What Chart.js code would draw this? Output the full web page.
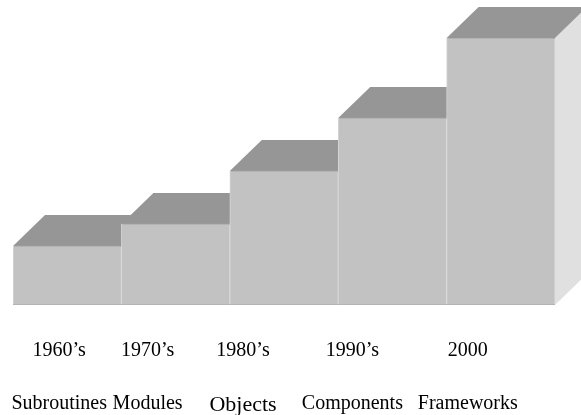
<!DOCTYPE html>
<html>
<head>
<meta charset="utf-8">
<script src="https://cdn.jsdelivr.net/npm/chart.js@4"></script>
<style>
  html, body { margin: 0; padding: 0; background: #fff; }
  #wrap { width: 581px; height: 415px; position: relative; }
</style>
</head>
<body>
<div id="wrap"><canvas id="stepChart"></canvas></div>
<script>
const decades = ['1960\u2019s', '1970\u2019s', '1980\u2019s', '1990\u2019s', '2000'];
const units   = ['Subroutines', 'Modules', 'Objects', 'Components', 'Frameworks'];
const levels  = [59, 81, 134, 187, 267];

// box depth of the fake 3D look
const DEPTH_X = 32;
const DEPTH_Y = 31;
// label centres sit a bit left of the bar centres in the original
const labelShift = [-8, -28, -41, -40, -33];

const boxes3d = {
  id: 'boxes3d',
  beforeDatasetsDraw(chart) {
    const ctx = chart.ctx;
    const bars = chart.getDatasetMeta(0).data;
    ctx.save();
    bars.forEach((b, i) => {
      const l = b.x - b.width / 2, r = b.x + b.width / 2;
      if (i === bars.length - 1) {
        ctx.fillStyle = '#e0e0e0';
        ctx.beginPath();
        ctx.moveTo(r, b.y);
        ctx.lineTo(r + DEPTH_X, b.y - DEPTH_Y);
        ctx.lineTo(r + DEPTH_X, b.base - DEPTH_Y);
        ctx.lineTo(r, b.base);
        ctx.closePath();
        ctx.fill();
      }
      ctx.fillStyle = '#969696';
      ctx.beginPath();
      ctx.moveTo(l, b.y);
      ctx.lineTo(l + DEPTH_X, b.y - DEPTH_Y);
      ctx.lineTo(r + DEPTH_X, b.y - DEPTH_Y);
      ctx.lineTo(r, b.y);
      ctx.closePath();
      ctx.fill();
    });
    ctx.restore();
  },
  afterDatasetsDraw(chart) {
    const ctx = chart.ctx;
    const bars = chart.getDatasetMeta(0).data;
    ctx.save();
    // darker seam along the bottom and top of each front face
    ctx.strokeStyle = '#b3b3b3';
    ctx.lineWidth = 1;
    bars.forEach(b => {
      const l = b.x - b.width / 2, r = b.x + b.width / 2;
      ctx.beginPath();
      ctx.moveTo(l, b.base - 0.5);
      ctx.lineTo(r, b.base - 0.5);
      ctx.moveTo(l + 1, b.y + 0.5);
      ctx.lineTo(r, b.y + 0.5);
      ctx.stroke();
    });

    ctx.fillStyle = '#000';
    ctx.textAlign = 'center';
    ctx.textBaseline = 'alphabetic';
    bars.forEach((b, i) => {
      const x = b.x + labelShift[i];
      ctx.font = '20px "Liberation Serif", "Times New Roman", serif';
      ctx.fillText(decades[i], x, 356);
      ctx.font = (units[i] === 'Objects' ? '22px' : '20px') + ' "Liberation Serif", "Times New Roman", serif';
      ctx.fillText(units[i], x, units[i] === 'Objects' ? 411 : 409);
    });
    ctx.restore();
  }
};

new Chart(document.getElementById('stepChart'), {
  type: 'bar',
  data: {
    labels: units,
    datasets: [{
      data: levels,
      backgroundColor: '#c2c2c2',
      borderColor: '#d6d6d6',
      borderWidth: 1,
      barPercentage: 1,
      categoryPercentage: 1
    }]
  },
  options: {
    responsive: true,
    maintainAspectRatio: false,
    animation: false,
    layout: { padding: { left: 13, right: 26, top: 38, bottom: 110 } },
    plugins: { legend: { display: false }, tooltip: { enabled: false } },
    scales: {
      x: { display: false },
      y: { display: false, min: 0, max: 267 }
    }
  },
  plugins: [boxes3d]
});
</script>
</body>
</html>
